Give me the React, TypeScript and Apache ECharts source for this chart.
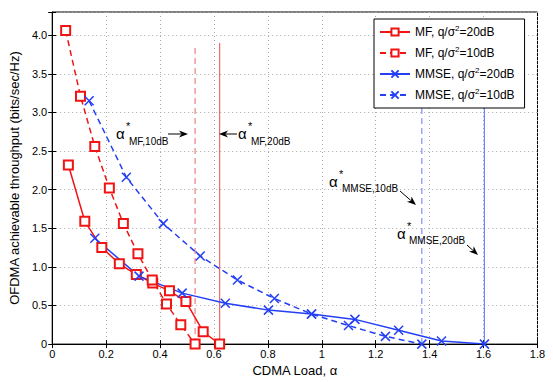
import React, { useEffect, useRef } from 'react';
import * as echarts from 'echarts';

// ---- data ----
const mf20X = [0.060, 0.121, 0.184, 0.249, 0.312, 0.373, 0.435, 0.496, 0.560, 0.621];
const mf20Y = [2.32, 1.59, 1.25, 1.04, 0.90, 0.79, 0.69, 0.55, 0.16, 0];
const mf10X = [0.050, 0.105, 0.158, 0.212, 0.264, 0.318, 0.371, 0.424, 0.477, 0.530];
const mf10Y = [4.06, 3.21, 2.56, 2.02, 1.56, 1.17, 0.83, 0.52, 0.25, 0];
const mmse20X = [0.158, 0.322, 0.482, 0.642, 0.802, 0.962, 1.123, 1.285, 1.444, 1.603];
const mmse20Y = [1.37, 0.88, 0.66, 0.53, 0.44, 0.39, 0.32, 0.18, 0.04, 0];
const mmse10X = [0.137, 0.275, 0.412, 0.549, 0.687, 0.824, 0.962, 1.099, 1.236, 1.371];
const mmse10Y = [3.15, 2.16, 1.56, 1.14, 0.83, 0.59, 0.39, 0.24, 0.10, 0];

// optimal load markers (vertical lines): x position and top value
const alphaMF10 = [0.530, 3.85];
const alphaMF20 = [0.621, 3.90];
const alphaMMSE10 = [1.371, 3.90];
const alphaMMSE20 = [1.603, 3.90];

const seriesNames = [
  'MF, q/σ2=20dB',
  'MF, q/σ2=10dB',
  'MMSE, q/σ2=20dB',
  'MMSE, q/σ2=10dB',
];
const legendRich: Record<string, string> = {
  'MF, q/σ2=20dB': 'MF, q/σ{sup|2}=20dB',
  'MF, q/σ2=10dB': 'MF, q/σ{sup|2}=10dB',
  'MMSE, q/σ2=20dB': 'MMSE, q/σ{sup|2}=20dB',
  'MMSE, q/σ2=10dB': 'MMSE, q/σ{sup|2}=10dB',
};

const X_MIN = 0, X_MAX = 1.8, X_INT = 0.2;
const Y_MIN = 0, Y_MAX = 4.3, Y_INT = 0.5;

const FONT = 'Liberation Sans, Arial, sans-serif';
const RED = '#f01414';
const BLUE = '#2440f5';
const XSYM = 'path://M0,0L10,10M10,0L0,10';

const zip = (xs: number[], ys: number[]) => xs.map((x, i) => [x, ys[i]]);

function arrow(x1: number, y1: number, x2: number, y2: number) {
  const dx = x2 - x1, dy = y2 - y1;
  const len = Math.sqrt(dx * dx + dy * dy);
  const ux = dx / len, uy = dy / len;
  const hl = 9, hw = 3.5;
  const bx = x2 - ux * hl, by = y2 - uy * hl;
  return [
    { type: 'line', z: 50, shape: { x1, y1, x2: bx + ux * 2, y2: by + uy * 2 }, style: { stroke: '#000', lineWidth: 1 } },
    {
      type: 'polygon', z: 50,
      shape: { points: [[x2, y2], [bx - uy * hw, by + ux * hw], [bx + ux * 2.5, by + uy * 2.5], [bx + uy * hw, by - ux * hw]] },
      style: { fill: '#000' },
    },
  ];
}

function alphaLabel(ax: number, ay: number, sub: string, sx: number, sy: number) {
  return [
    { type: 'text', z: 50, x: ax, y: ay, style: { text: 'α', fontSize: 15, fontFamily: FONT, fill: '#000', verticalAlign: 'middle' } },
    { type: 'text', z: 50, x: ax + 10, y: ay - 7, style: { text: '*', fontSize: 11, fontFamily: FONT, fill: '#000', verticalAlign: 'middle' } },
    { type: 'text', z: 50, x: sx, y: sy, style: { text: sub, fontSize: 10, fontFamily: FONT, fill: '#000', verticalAlign: 'middle' } },
  ];
}

function vline(name: string, v: number[], color: string, dashed: boolean) {
  return {
    name, type: 'line', silent: true, symbol: 'none', z: 1,
    data: [[v[0], 0], [v[0], v[1]]],
    lineStyle: { color, width: 1.2, type: dashed ? [6, 4] : 'solid' },
  };
}

export default function App() {
  const ref = useRef<HTMLDivElement>(null);
  useEffect(() => {
    document.body.style.margin = '0';
    if (!ref.current) return;
    const chart = echarts.init(ref.current, undefined, { renderer: 'svg' });
    const axisCommonX = {
      type: 'value', min: X_MIN, max: X_MAX, interval: X_INT,
    };
    const axisCommonY = {
      type: 'value', min: Y_MIN, max: Y_MAX, interval: Y_INT,
    };
    chart.setOption({
      animation: false,
      backgroundColor: '#fff',
      grid: { left: 49, right: 15.5, top: 12, bottom: 34, show: true, borderColor: '#000', borderWidth: 1, backgroundColor: '#fff' },
      xAxis: [
        {
          ...axisCommonX, position: 'bottom',
          name: 'CDMA Load, α', nameLocation: 'middle', nameGap: 15,
          nameTextStyle: { fontSize: 13, fontFamily: FONT, color: '#000' },
          axisLine: { show: true, lineStyle: { color: '#000' } },
          axisTick: { show: true, inside: true, length: 4, lineStyle: { color: '#000' } },
          axisLabel: { fontSize: 11, fontFamily: FONT, color: '#000', margin: 4 },
          splitLine: { show: true, lineStyle: { color: '#aaa', type: [1, 3] } },
        },
        {
          ...axisCommonX, position: 'top',
          axisLine: { show: false },
          axisTick: { show: true, inside: true, length: 4, lineStyle: { color: '#000' } },
          axisLabel: { show: false },
          splitLine: { show: false },
        },
      ],
      yAxis: [
        {
          ...axisCommonY, position: 'left',
          name: 'OFDMA achievable throughput (bits/sec/Hz)', nameLocation: 'middle', nameGap: 26,
          nameTextStyle: { fontSize: 13, fontFamily: FONT, color: '#000' },
          axisLine: { show: true, lineStyle: { color: '#000' } },
          axisTick: { show: true, inside: true, length: 4, lineStyle: { color: '#000' } },
          axisLabel: {
            fontSize: 11, fontFamily: FONT, color: '#000', margin: 5,
            formatter: (v: number) => (v > 4.01 ? '' : v === 0 ? '0' : v.toFixed(1)),
          },
          splitLine: { show: true, lineStyle: { color: '#aaa', type: [1, 3] } },
        },
        {
          ...axisCommonY, position: 'right',
          axisLine: { show: false },
          axisTick: { show: true, inside: true, length: 4, lineStyle: { color: '#000' } },
          axisLabel: { show: false },
          splitLine: { show: false },
        },
      ],
      legend: {
        data: seriesNames,
        orient: 'vertical',
        left: 374, top: 19,
        padding: [5, 10, 5, 5],
        itemGap: 5,
        itemWidth: 30, itemHeight: 9,
        backgroundColor: '#fff',
        borderColor: '#000', borderWidth: 1, borderRadius: 0,
        z: 20,
        formatter: (name: string) => legendRich[name] || name,
        textStyle: {
          fontSize: 12, fontFamily: FONT, color: '#000', lineHeight: 16,
          rich: { sup: { fontSize: 8, fontFamily: FONT, color: '#000', verticalAlign: 'top', lineHeight: 8 } },
        },
      },
      graphic: [
        ...alphaLabel(116, 133, 'MF,10dB', 129, 141),
        ...arrow(168, 134, 188, 134),
        ...arrow(237, 134, 219, 134),
        ...alphaLabel(238, 133, 'MF,20dB', 251, 141),
        ...alphaLabel(329, 181, 'MMSE,10dB', 342, 188),
        ...arrow(400, 191, 416, 205),
        ...alphaLabel(397, 233, 'MMSE,20dB', 409, 240),
        ...arrow(467, 245, 478, 255),
      ],
      series: [
        vline('a_mf10', alphaMF10, '#f08080', true),
        vline('a_mf20', alphaMF20, '#ee6a6a', false),
        vline('a_mmse10', alphaMMSE10, '#7f8fff', true),
        vline('a_mmse20', alphaMMSE20, '#6f82ff', false),
        {
          name: seriesNames[0], type: 'line', data: zip(mf20X, mf20Y),
          symbol: 'emptyRect', symbolSize: 9,
          lineStyle: { color: RED, width: 1.5 },
          itemStyle: { color: RED, borderWidth: 1.5 },
        },
        {
          name: seriesNames[1], type: 'line', data: zip(mf10X, mf10Y),
          symbol: 'emptyRect', symbolSize: 9,
          lineStyle: { color: RED, width: 1.5, type: [6, 4] },
          itemStyle: { color: RED, borderWidth: 1.5 },
        },
        {
          name: seriesNames[2], type: 'line', data: zip(mmse20X, mmse20Y),
          symbol: XSYM, symbolSize: 9,
          lineStyle: { color: BLUE, width: 1.5 },
          itemStyle: { color: BLUE, borderColor: BLUE, borderWidth: 1.5 },
        },
        {
          name: seriesNames[3], type: 'line', data: zip(mmse10X, mmse10Y),
          symbol: XSYM, symbolSize: 9,
          lineStyle: { color: BLUE, width: 1.5, type: [6, 4] },
          itemStyle: { color: BLUE, borderColor: BLUE, borderWidth: 1.5 },
        },
      ],
    });
    return () => chart.dispose();
  }, []);
  return <div ref={ref} style={{ width: 553, height: 382 }} />;
}
